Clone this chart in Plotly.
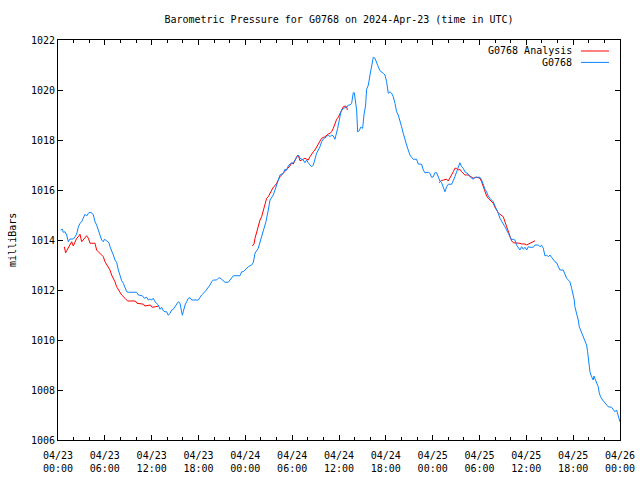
import plotly.graph_objects as go

# ---------------- data (hours since 2024-04-23 00:00 UTC, pressure in mbar) ----------------
obs_hours = [
    0.34, 0.56, 0.68, 0.90, 1.11, 1.32, 1.54, 1.96, 2.18, 2.39, 2.60, 2.82, 3.03, 3.25, 3.46, 3.67,
    3.89, 4.10, 4.31, 4.53, 4.74, 4.95, 5.17, 5.38, 5.59, 5.81, 5.94, 6.23, 6.53, 6.66, 6.87, 7.09,
    7.30, 7.51, 7.73, 7.94, 8.16, 8.37, 8.58, 8.80, 9.01, 10.08, 10.29, 10.80, 11.06, 11.36, 11.57,
    11.78, 12.00, 12.21, 12.43, 12.64, 12.85, 13.07, 13.28, 13.49, 13.71, 13.92, 14.13, 14.35, 14.56,
    14.77, 14.99, 15.20, 15.41, 15.63, 15.76, 15.93, 16.05, 16.27, 16.48, 16.70, 16.91, 17.12, 17.98,
    18.19, 18.40, 18.83, 19.26, 19.47, 19.68, 19.90, 20.32, 20.54, 20.75, 20.96, 21.18, 21.39, 21.82,
    22.03, 22.46, 23.31, 23.53, 23.74, 23.95, 24.17, 24.38, 24.81, 25.02, 25.24, 25.66, 25.96, 26.30,
    26.64, 26.94, 27.16, 27.58, 27.93, 28.22, 28.44, 28.86, 29.07, 29.29, 29.50, 29.71, 30.14, 30.36,
    30.57, 30.78, 31.00, 31.42, 31.64, 31.85, 32.06, 32.28, 32.49, 32.71, 32.92, 33.13, 33.56, 33.77,
    33.99, 34.20, 34.41, 34.63, 34.84, 35.06, 35.27, 35.48, 35.70, 35.83, 36.04, 36.25, 36.55, 36.98,
    37.20, 37.41, 37.62, 37.83, 37.96, 38.05, 38.26, 38.39, 38.60, 38.77, 39.03, 39.20, 39.41, 39.54,
    39.76, 39.97, 40.18, 40.39, 40.61, 40.82, 41.03, 41.25, 41.46, 41.67, 41.89, 42.10, 42.31, 42.53,
    42.74, 42.95, 43.17, 43.38, 43.59, 43.81, 44.02, 44.23, 44.44, 44.66, 44.87, 45.09, 45.30, 45.51,
    45.94, 46.15, 46.58, 46.80, 47.01, 47.44, 47.65, 47.86, 48.08, 48.29, 48.51, 48.72, 48.93, 49.15,
    49.36, 49.57, 49.79, 50.00, 50.43, 50.64, 50.85, 51.07, 51.28, 51.49, 51.71, 51.92, 52.13, 52.35,
    52.56, 52.78, 52.99, 53.20, 53.42, 54.06, 54.27, 54.48, 54.70, 54.91, 55.12, 55.34, 55.55, 55.76,
    55.98, 56.19, 56.40, 56.62, 56.83, 57.05, 57.26, 57.47, 57.69, 57.90, 58.11, 58.33, 58.54, 58.75,
    58.97, 59.18, 59.40, 59.61, 59.82, 60.04, 60.25, 60.46, 60.89, 61.11, 61.53, 61.75, 61.96, 62.17,
    62.39, 62.60, 62.82, 63.03, 63.24, 63.46, 63.67, 63.88, 64.10, 64.30, 64.73, 64.94, 65.16, 65.37,
    65.58, 65.80, 66.01, 66.14, 66.22, 66.44, 66.65, 66.78, 66.95, 67.08, 67.29, 67.50, 67.72, 67.85,
    67.93, 68.02, 68.15, 68.36, 68.57, 68.66, 68.79, 69.00, 69.21, 69.34, 69.51, 69.77, 70.07, 70.49,
    70.92, 71.14, 71.35, 71.56, 71.78, 71.99,
]
obs_pressure = [
    1014.40, 1014.43, 1014.31, 1014.33, 1014.20, 1013.93, 1014.04, 1014.04, 1014.13, 1014.24, 1014.51,
    1014.67, 1014.73, 1014.93, 1015.03, 1014.96, 1015.07, 1015.11, 1015.09, 1015.00, 1014.73, 1014.60,
    1014.40, 1014.13, 1014.00, 1013.93, 1014.03, 1013.97, 1013.89, 1013.73, 1013.60, 1013.40, 1013.20,
    1013.11, 1012.80, 1012.53, 1012.37, 1012.27, 1012.07, 1011.93, 1011.91, 1011.91, 1011.80, 1011.77,
    1011.67, 1011.71, 1011.60, 1011.64, 1011.60, 1011.67, 1011.53, 1011.47, 1011.40, 1011.23, 1011.31,
    1011.17, 1011.13, 1011.13, 1010.99, 1011.07, 1011.20, 1011.23, 1011.33, 1011.47, 1011.53, 1011.47,
    1011.20, 1010.99, 1011.13, 1011.40, 1011.53, 1011.67, 1011.69, 1011.60, 1011.60, 1011.73, 1011.80,
    1011.93, 1012.09, 1012.20, 1012.33, 1012.40, 1012.40, 1012.47, 1012.49, 1012.43, 1012.40, 1012.31,
    1012.31, 1012.40, 1012.57, 1012.57, 1012.73, 1012.73, 1012.80, 1012.87, 1012.93, 1013.00, 1013.10,
    1013.47, 1013.67, 1014.00, 1014.40, 1014.73, 1015.20, 1015.60, 1015.80, 1016.13, 1016.33, 1016.60,
    1016.67, 1016.83, 1016.80, 1016.96, 1017.04, 1017.09, 1017.20, 1017.33, 1017.40, 1017.27, 1017.20,
    1017.09, 1017.20, 1017.09, 1017.00, 1016.93, 1017.00, 1017.20, 1017.47, 1017.73, 1017.93, 1018.04,
    1018.07, 1018.13, 1018.20, 1018.13, 1018.20, 1018.16, 1018.03, 1018.27, 1018.47, 1018.80, 1019.13,
    1019.27, 1019.31, 1019.40, 1019.40, 1019.47, 1019.89, 1019.89, 1019.67, 1019.20, 1018.33, 1018.37,
    1018.51, 1018.47, 1019.00, 1019.40, 1020.03, 1020.20, 1020.60, 1020.93, 1021.31, 1021.27, 1021.07,
    1020.93, 1020.77, 1020.73, 1020.67, 1020.60, 1020.33, 1019.87, 1019.93, 1019.87, 1019.73, 1019.47,
    1019.13, 1019.00, 1018.80, 1018.53, 1018.27, 1018.00, 1017.80, 1017.60, 1017.40, 1017.31, 1017.23,
    1017.23, 1017.04, 1017.03, 1016.80, 1016.69, 1016.71, 1016.67, 1016.51, 1016.53, 1016.69, 1016.69,
    1016.53, 1016.36, 1016.29, 1016.13, 1015.93, 1016.13, 1016.23, 1016.23, 1016.37, 1016.53, 1016.73,
    1016.93, 1017.09, 1016.93, 1016.87, 1016.73, 1016.67, 1016.64, 1016.53, 1016.47, 1016.43, 1016.51,
    1016.51, 1016.40, 1016.20, 1016.03, 1015.93, 1015.76, 1015.67, 1015.60, 1015.53, 1015.36, 1015.23,
    1015.07, 1014.87, 1014.73, 1014.64, 1014.53, 1014.37, 1014.27, 1014.13, 1014.00, 1014.03, 1014.00,
    1013.80, 1013.71, 1013.60, 1013.73, 1013.63, 1013.71, 1013.60, 1013.73, 1013.71, 1013.71, 1013.80,
    1013.80, 1013.73, 1013.79, 1013.67, 1013.36, 1013.40, 1013.33, 1013.40, 1013.31, 1013.20, 1013.13,
    1013.09, 1012.93, 1012.80, 1012.80, 1012.60, 1012.47, 1012.40, 1012.33, 1012.07, 1011.80, 1011.60,
    1011.33, 1011.07, 1010.80, 1010.53, 1010.40, 1010.27, 1010.13, 1009.93, 1009.80, 1009.53, 1009.33,
    1009.07, 1008.73, 1008.53, 1008.40, 1008.56, 1008.47, 1008.27, 1008.13, 1007.89, 1007.73, 1007.60,
    1007.47, 1007.33, 1007.31, 1007.20, 1007.13, 1007.20, 1007.00, 1006.73,
]

analysis_hours_1 = [
    0.81, 0.98, 1.11, 1.32, 1.54, 1.75, 1.96, 2.18, 2.39, 2.60, 2.82, 3.03, 3.25, 3.46, 3.67, 3.89,
    4.10, 4.74, 4.95, 5.17, 5.59, 5.81, 6.02, 6.23, 6.45, 6.66, 6.87, 7.09, 7.30, 7.51, 7.73, 7.94,
    8.16, 8.58, 8.92, 9.91, 10.12, 10.97, 11.10, 11.83, 12.04, 12.47, 12.90,
]
analysis_pressure_1 = [
    1013.73, 1013.49, 1013.57, 1013.71, 1013.80, 1013.93, 1013.76, 1013.93, 1014.07, 1014.13, 1014.23,
    1013.93, 1014.03, 1014.09, 1014.17, 1014.07, 1013.87, 1013.87, 1013.60, 1013.53, 1013.40, 1013.33,
    1013.13, 1013.00, 1012.93, 1012.80, 1012.60, 1012.47, 1012.33, 1012.13, 1012.00, 1011.87, 1011.80,
    1011.67, 1011.56, 1011.56, 1011.47, 1011.43, 1011.36, 1011.40, 1011.31, 1011.33, 1011.36,
]
analysis_hours_2 = [
    24.89, 25.11, 25.24, 25.45, 25.66, 25.88, 26.09, 26.30, 26.52, 26.73, 26.94, 27.16, 27.37, 27.58,
    27.80, 28.01, 28.44, 28.65, 28.86, 29.07, 29.29, 29.71, 29.93, 30.14, 30.36, 30.57, 30.78, 31.00,
    31.21, 31.42, 31.64, 31.85, 32.06, 32.28, 32.49, 32.71, 32.92, 33.13, 33.35, 33.56, 33.77, 34.20,
    34.41, 34.63, 34.84, 35.06, 35.27, 35.48, 35.70, 35.91, 36.13, 36.34, 36.55, 36.77, 36.98, 37.07,
]
analysis_pressure_2 = [
    1013.76, 1013.84, 1014.07, 1014.33, 1014.53, 1014.80, 1014.93, 1015.20, 1015.47, 1015.67, 1015.73,
    1015.87, 1016.00, 1016.11, 1016.17, 1016.27, 1016.53, 1016.60, 1016.69, 1016.73, 1016.80, 1016.96,
    1017.09, 1017.04, 1017.17, 1017.33, 1017.40, 1017.17, 1017.20, 1017.23, 1017.27, 1017.23, 1017.20,
    1017.33, 1017.44, 1017.53, 1017.60, 1017.73, 1017.87, 1018.00, 1018.07, 1018.13, 1018.20, 1018.24,
    1018.27, 1018.33, 1018.47, 1018.67, 1018.83, 1018.91, 1019.07, 1019.20, 1019.33, 1019.36, 1019.33,
    1019.20,
]
analysis_hours_3 = [
    48.85, 49.02, 49.36, 49.79, 50.00, 50.21, 50.43, 50.64, 50.85, 51.07, 51.28, 51.49, 51.71, 51.92,
    52.13, 52.35, 52.56, 52.78, 52.99, 53.20, 53.63, 54.06, 54.27, 54.48, 54.70, 54.91, 55.12, 55.34,
    55.55, 55.76, 55.98, 56.19, 56.40, 56.62, 56.83, 57.05, 57.26, 57.47, 57.69, 57.90, 58.11, 58.33,
    58.54, 58.75, 59.18, 59.40, 59.82, 60.04, 60.25, 60.46, 60.68, 60.89, 61.11,
]
analysis_pressure_3 = [
    1016.29, 1016.36, 1016.40, 1016.43, 1016.36, 1016.47, 1016.60, 1016.73, 1016.87, 1016.87, 1016.80,
    1016.83, 1016.73, 1016.67, 1016.60, 1016.60, 1016.60, 1016.56, 1016.53, 1016.47, 1016.51, 1016.47,
    1016.33, 1016.13, 1015.97, 1015.76, 1015.67, 1015.60, 1015.53, 1015.47, 1015.31, 1015.17, 1015.09,
    1015.03, 1014.96, 1014.93, 1014.73, 1014.53, 1014.33, 1014.13, 1013.97, 1013.89, 1013.89, 1013.87,
    1013.87, 1013.84, 1013.84, 1013.80, 1013.84, 1013.87, 1013.89, 1013.93, 1013.97,
]

tick_hours = [0, 6, 12, 18, 24, 30, 36, 42, 48, 54, 60, 66, 72]
tick_labels = [
    "04/23<br>00:00", "04/23<br>06:00", "04/23<br>12:00", "04/23<br>18:00",
    "04/24<br>00:00", "04/24<br>06:00", "04/24<br>12:00", "04/24<br>18:00",
    "04/25<br>00:00", "04/25<br>06:00", "04/25<br>12:00", "04/25<br>18:00",
    "04/26<br>00:00",
]
y_ticks = [1006, 1008, 1010, 1012, 1014, 1016, 1018, 1020, 1022]

title_text = "Barometric Pressure for G0768 on 2024-Apr-23 (time in UTC)"
y_title = "milliBars"
name_analysis = "G0768 Analysis"
name_obs = "G0768"

RED = "#ff0000"
BLUE = "#0a84ff"
FONT = "DejaVu Sans Mono"

# join analysis segments with gaps
an_x = analysis_hours_1 + [None] + analysis_hours_2 + [None] + analysis_hours_3
an_y = analysis_pressure_1 + [None] + analysis_pressure_2 + [None] + analysis_pressure_3

fig = go.Figure()
fig.add_trace(go.Scatter(x=an_x, y=an_y, mode="lines", name=name_analysis,
                         line=dict(color=RED, width=1), connectgaps=False, showlegend=False))
fig.add_trace(go.Scatter(x=obs_hours, y=obs_pressure, mode="lines", name=name_obs,
                         line=dict(color=BLUE, width=1), showlegend=False))

axis_common = dict(showline=True, linecolor="black", linewidth=1, mirror="ticks",
                   ticks="inside", tickcolor="black", tickwidth=1, showgrid=False,
                   zeroline=False, automargin=False,
                   tickfont=dict(family=FONT, size=10, color="black"))

fig.update_xaxes(range=[0, 72], tickmode="array", tickvals=tick_hours, ticktext=tick_labels,
                 ticklen=5, ticklabelstandoff=6,
                 minor=dict(dtick=2, tick0=0, ticks="inside", ticklen=3, tickcolor="black",
                            showgrid=False),
                 **axis_common)
fig.update_yaxes(range=[1006, 1022], tickmode="array", tickvals=y_ticks,
                 ticktext=[str(v) for v in y_ticks], ticklen=5, **axis_common)

# legend drawn gnuplot-style: text right-aligned, sample line to its right
legend_items = [(name_analysis, RED, 0.9725), (name_obs, BLUE, 0.944)]
for label, color, yy in legend_items:
    fig.add_annotation(text=label, xref="paper", yref="paper", x=0.918, y=yy,
                       xanchor="right", yanchor="middle", showarrow=False,
                       font=dict(family=FONT, size=10, color="black"))
    fig.add_shape(type="line", xref="paper", yref="paper", x0=0.9306, x1=0.9804,
                  y0=yy, y1=yy, line=dict(color=color, width=1))

fig.add_annotation(text=y_title, xref="paper", yref="paper", x=-0.082, y=0.5,
                   textangle=-90, showarrow=False, xanchor="center", yanchor="middle",
                   font=dict(family=FONT, size=10, color="black"))

fig.update_layout(
    width=640, height=480,
    margin=dict(l=58, r=20, t=40, b=40, autoexpand=False),
    paper_bgcolor="white", plot_bgcolor="white",
    title=dict(text=title_text, x=0.5, xref="paper", y=1 - 19 / 480, yref="container",
               xanchor="center", yanchor="middle",
               font=dict(family=FONT, size=10, color="black")),
    showlegend=False,
)

fig.write_html("out.html", config={"displayModeBar": False},
               post_script="document.body.style.margin='0';document.body.style.padding='0';")
